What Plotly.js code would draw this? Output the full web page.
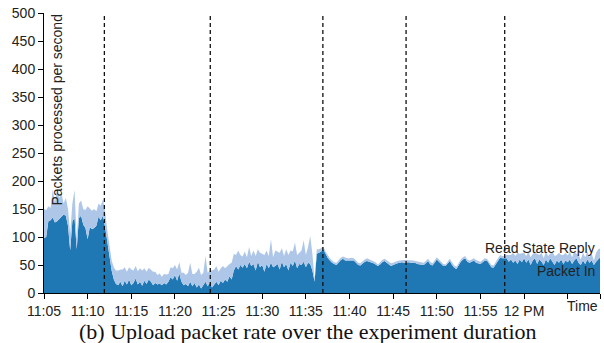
<!DOCTYPE html>
<html><head><meta charset="utf-8">
<script src="https://cdn.plot.ly/plotly-3.0.1.min.js"></script>
<style>html,body{margin:0;padding:0;background:#fff}#chart{width:604px;height:343px}</style>
</head><body><div id="chart"></div>
<script>
// Sampling: one value every 15 s starting 11:05:00
const sampleStart = '11:05:00';
const sampleStepSeconds = 15;
const day = '2018-06-01 ';

const packetIn = [
 98,100,128,130,135,126,128,132,137,140,138,120,76,128,134,78,134,138,122,116,96,118,114,116,120,136,130,138,118,92,62,40,24,16,
 14,20,12,22,15,24,14,18,26,15,20,13,22,16,24,20,14,18,15,17,14,18,15,20,28,24,32,22,35,20,14,16,12,20,12,18,10,15,8,14,20,12,18,
 10,16,20,14,22,18,24,20,30,24,40,48,42,50,45,52,44,56,48,52,40,56,46,50,38,52,44,54,46,48,52,42,56,46,52,40,54,48,58,44,52,50,56,46,54,52,40,20,70,72,74,
 78,69,63,58,54,52,50,54,59,61,58,58,58,59,58,54,50,49,53,56,57,56,55,53,51,48,51,55,57,54,51,48,50,52,53,54,55,54,55,55,54,54,54,52,51,51,50,53,57,51,49,54,60,56,51,48,48,52,57,50,45,43,50,56,60,62,56,54,56,58,54,53,52,55,58,58,51,46,45,51,58,63,62,62,
 62,56,60,54,58,52,60,55,62,54,60,50,58,62,52,60,56,50,60,54,62,56,50,58,54,60,52,58,55,60,52,58,62,54,50,58,52,60,54,58,50,56,60,64
];
const readStateReply = [
 52,48,27,22,50,36,58,38,41,20,32,30,30,32,50,18,26,27,28,32,59,32,33,34,26,24,26,29,28,20,18,18,22,24,
 26,22,30,24,23,22,28,22,22,24,24,27,22,22,21,22,24,20,17,18,15,16,18,14,18,20,18,20,20,16,22,16,24,34,22,16,28,30,24,22,46,24,22,
 30,26,28,24,22,30,20,28,22,30,30,20,34,18,20,22,20,26,18,24,26,22,26,20,30,24,22,42,18,28,22,30,24,20,26,28,22,26,32,24,20,26,38,22,28,50,30,4,8,6,6,
 5,5,4,4,4,3,4,4,4,4,5,4,4,4,4,3,4,4,4,4,5,4,4,4,4,3,4,4,4,4,4,5,4,4,4,4,4,5,4,4,4,4,3,4,4,4,4,4,4,5,4,4,4,4,4,4,3,4,4,5,4,4,4,4,4,4,4,4,4,4,5,4,4,4,4,3,4,4,4,4,4,5,4,4,
 6,12,8,18,8,20,10,16,10,12,14,14,12,10,18,8,16,12,14,12,8,18,16,10,18,8,16,14,12,14,12,16,8,14,10,14,12,14,10,12,8,16,18,16
];

const axisEnd = '12:08:42';
const tickTimes = ['11:05:00','11:10:00','11:15:00','11:20:00','11:25:00','11:30:00','11:35:00','11:40:00','11:45:00','11:50:00','11:55:00','12:00:00','12:05:00', axisEnd];
const tickLabels = ['11:05','11:10','11:15','11:20','11:25','11:30','11:35','11:40','11:45','11:50','11:55','12 PM','',''];
const phaseMarks = ['11:11:55','11:24:03','11:36:57','11:46:29','11:57:47'];
const yTicks = [0,50,100,150,200,250,300,350,400,450,500];
const seriesNames = ['Packet In', 'Read State Reply'];

function pad(n){return (n<10?'0':'')+n;}
function toSec(s){const p=s.split(':').map(Number);return p[0]*3600+p[1]*60+(p[2]||0);}
function clock(sec){return day+pad(Math.floor(sec/3600))+':'+pad(Math.floor(sec%3600/60))+':'+pad(sec%60);}
const t0 = toSec(sampleStart);
const times = packetIn.map((_,i)=>clock(t0+i*sampleStepSeconds));

const font = {family:'Liberation Sans, Arial, sans-serif', size:14, color:'#222'};

const traces = [
 {x:times, y:packetIn, name:seriesNames[0], type:'scatter', mode:'lines', stackgroup:'one',
  line:{width:0, color:'#1f77b4'}, fillcolor:'#1f77b4', hoverinfo:'skip'},
 {x:times, y:readStateReply, name:seriesNames[1], type:'scatter', mode:'lines', stackgroup:'one',
  line:{width:0, color:'#aec7e8'}, fillcolor:'#aec7e8', hoverinfo:'skip'}
];

const axisCommon = {showline:true, linecolor:'#000', linewidth:1, ticks:'outside', ticklen:5, tickcolor:'#000',
  showgrid:false, zeroline:false, tickfont:font};

const layout = {
 width:604, height:343, margin:{l:44, r:4, t:13, b:50},
 paper_bgcolor:'#fff', plot_bgcolor:'#fff', showlegend:false, hovermode:false,
 xaxis: Object.assign({type:'date', range:[day+sampleStart, day+axisEnd], tickmode:'array',
   tickvals:tickTimes.map(t=>day+t), ticktext:tickLabels}, axisCommon),
 yaxis: Object.assign({range:[0,500], tickmode:'array', tickvals:yTicks}, axisCommon),
 shapes: phaseMarks.map(t=>({type:'line', xref:'x', yref:'paper', x0:day+t, x1:day+t, y0:0, y1:1,
   line:{color:'#111', width:1.3, dash:'4px,3px'}, layer:'above'})),
 annotations: [
  {text:'Packets processed per second', xref:'paper', yref:'paper', x:0, y:1, xanchor:'left', yanchor:'top',
   xshift:2, textangle:-90, showarrow:false, font:font},
  {text:seriesNames[1], xref:'paper', yref:'y', x:1, y:81, xanchor:'right', yanchor:'middle', xshift:-3, showarrow:false, font:font},
  {text:seriesNames[0], xref:'paper', yref:'y', x:1, y:40, xanchor:'right', yanchor:'middle', xshift:-3, showarrow:false, font:font},
  {text:'Time', xref:'paper', yref:'paper', x:1, y:0, xanchor:'right', yanchor:'middle', yshift:-13, showarrow:false, font:font},
  {text:'(b) Upload packet rate over the experiment duration', xref:'paper', yref:'paper', x:0.474, y:-0.136,
   xanchor:'center', yanchor:'middle', showarrow:false, font:{family:'Liberation Serif, Times New Roman, serif', size:22, color:'#111'}}
 ]
};

Plotly.newPlot('chart', traces, layout, {displayModeBar:false, staticPlot:true});
</script>
</body></html>
